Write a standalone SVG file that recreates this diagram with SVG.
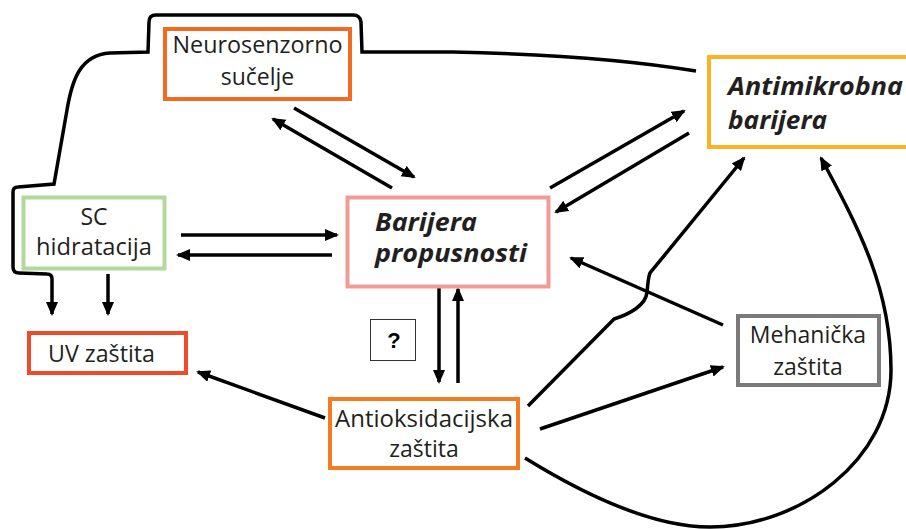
<svg xmlns="http://www.w3.org/2000/svg" width="906" height="529" viewBox="0 0 906 529">
<defs>
<style>
.box{fill:#fff;stroke-width:4}
.t{font-family:"Open Sans","Noto Sans","Liberation Sans",sans-serif;font-size:23px;fill:#231F20}
.b{font-family:"Open Sans","Noto Sans","Liberation Sans",sans-serif;font-size:25px;font-weight:bold;font-style:italic;fill:#231F20}
.c{fill:none;stroke:#000;stroke-width:3.5}
.a{marker-end:url(#ah)}
</style>
<marker id="ah" markerUnits="userSpaceOnUse" markerWidth="16" markerHeight="14" refX="12" refY="6" orient="auto">
<path d="M0,0 L14,6 L0,12 z" fill="#000"/>
</marker>
</defs>
<rect width="906" height="529" fill="#fff"/>
<g id="connectors">
<path class="c a" d="M696,71 Q600,55 453,52 L362,52 L361,22 Q360,15 353,15 L156,15 Q149,15 149,22 L148,52 L110,53 C80,55 72,80 67,110 L54,184 L18,187 Q13,187 13,192 L13,267 Q13,273 19,273 L47,274 Q52,274 52,279 L52,314"/>
<path class="c a" d="M108,274 L108,314"/>
<path class="c a" d="M181,235 L337,235"/>
<path class="c a" d="M332,255 L178,255"/>
<path class="c a" d="M294,108 L414,177"/>
<path class="c a" d="M392,188 L273,119"/>
<path class="c a" d="M550,188 L684,111"/>
<path class="c a" d="M689,133 L556,212"/>
<path class="c a" d="M439,288 L439,382"/>
<path class="c a" d="M458,383 L458,289"/>
<path class="c a" d="M325,418 L198,372"/>
<path class="c a" d="M540,429 L723,367"/>
<path class="c a" d="M528,406 L614,319 C630,314 646,305 647,292 C648,284 648,278 650,273 L744,158"/>
<path class="c a" d="M723,325 L571,258"/>
<path class="c a" d="M525,458 C580,492 650,527 710,527 C800,527 891,460 891,370 C891,290 860,230 821,158"/>
</g>
<g id="neurosenzorno">
<rect class="box" x="165" y="29" width="185" height="70" stroke="#F26B21"/>
<text class="t" x="257.5" y="53" text-anchor="middle" textLength="170" lengthAdjust="spacingAndGlyphs">Neurosenzorno</text>
<text class="t" x="257.5" y="85" text-anchor="middle">sučelje</text>
</g>
<g id="sc-hidratacija">
<rect class="box" x="23.5" y="197.5" width="141" height="71" stroke="#B3D89C" stroke-width="3"/>
<text class="t" x="94" y="225" text-anchor="middle">SC</text>
<text class="t" x="94" y="255" text-anchor="middle" textLength="116" lengthAdjust="spacingAndGlyphs">hidratacija</text>
</g>
<g id="uv-zastita">
<rect class="box" x="29" y="333" width="157" height="40" stroke="#EF4A2A"/>
<text class="t" x="48" y="362" textLength="107" lengthAdjust="spacingAndGlyphs">UV zaštita</text>
</g>
<g id="barijera-propusnosti">
<rect class="box" x="347.5" y="197.5" width="201" height="89" stroke="#F19B97" stroke-width="3"/>
<text class="b" x="375" y="231" textLength="102" lengthAdjust="spacingAndGlyphs">Barijera</text>
<text class="b" x="375" y="262" textLength="152" lengthAdjust="spacingAndGlyphs">propusnosti</text>
</g>
<g id="antimikrobna-barijera">
<rect class="box" x="709" y="57" width="210" height="90" stroke="#FBB323"/>
<text class="b" x="728" y="95" textLength="175" lengthAdjust="spacingAndGlyphs">Antimikrobna</text>
<text class="b" x="728" y="129" textLength="99" lengthAdjust="spacingAndGlyphs">barijera</text>
</g>
<g id="mehanicka-zastita">
<rect class="box" x="738" y="316" width="141" height="69" stroke="#7A7A7A"/>
<text class="t" x="808" y="343" text-anchor="middle">Mehanička</text>
<text class="t" x="808" y="375" text-anchor="middle">zaštita</text>
</g>
<g id="antioksidacijska-zastita">
<rect class="box" x="330" y="399" width="188" height="69" stroke="#F47B20"/>
<text class="t" x="424" y="427" text-anchor="middle" textLength="178" lengthAdjust="spacingAndGlyphs">Antioksidacijska</text>
<text class="t" x="424" y="457" text-anchor="middle">zaštita</text>
</g>
<g id="question">
<rect x="370.5" y="319.5" width="45" height="41" fill="#fff" stroke="#333" stroke-width="1"/>
<text x="394" y="348" text-anchor="middle" font-family="Liberation Sans, Arial, sans-serif" font-size="22" font-weight="bold" fill="#000">?</text>
</g>
</svg>
